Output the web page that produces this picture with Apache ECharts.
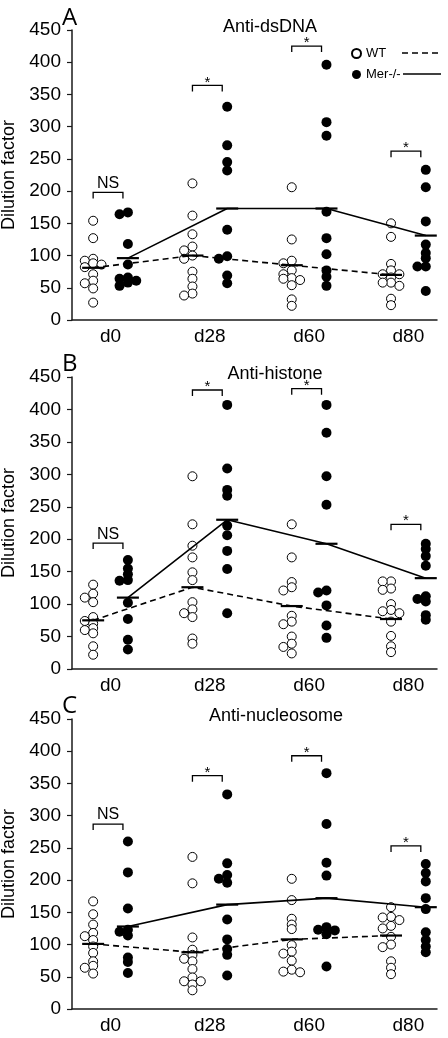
<!DOCTYPE html>
<html>
<head>
<meta charset="utf-8">
<script src="https://cdn.jsdelivr.net/npm/echarts@6/dist/echarts.min.js"></script>
<style>
html,body{margin:0;padding:0;background:#fff;}
#chart{width:448px;height:1038px;}
</style>
</head>
<body>
<div id="chart"></div>
<script>
// ---------------- data ----------------
const categories = ['d0', 'd28', 'd60', 'd80'];
const panelLetters = ['A', 'B', 'C'];
const panelTitles = ['Anti-dsDNA', 'Anti-histone', 'Anti-nucleosome'];
const legendNames = ['WT', 'Mer-/-'];

// Anti-dsDNA
const dsDNA_WT = [
  [154, 127, 95, 92, 88, 86, 82, 71, 61, 57, 49, 27],
  [212, 162, 133, 114, 108, 100, 95, 75, 64, 52, 41, 38],
  [206, 125, 92, 88, 77, 71, 65, 64, 62, 54, 32, 22],
  [150, 129, 87, 77, 71, 71, 66, 58, 58, 53, 33, 23]
];
const dsDNA_Mer = [
  [167, 164, 118, 86, 66, 64, 61, 58, 53],
  [331, 271, 245, 232, 140, 99, 95, 69, 57],
  [396, 307, 286, 168, 127, 102, 77, 67, 53],
  [233, 206, 153, 117, 104, 96, 83, 83, 45]
];
const dsDNA_WT_mean = [81, 100, 85, 70];
const dsDNA_Mer_mean = [96, 173, 173, 131];
const dsDNA_sig = [198, 364, 425, 262];

// Anti-histone
const histone_WT = [
  [130, 116, 110, 103, 80, 74, 70, 63, 60, 55, 35, 22],
  [297, 223, 190, 172, 149, 137, 103, 92, 86, 80, 47, 39],
  [223, 172, 134, 126, 121, 82, 73, 69, 50, 39, 34, 24],
  [135, 135, 124, 122, 100, 91, 89, 86, 73, 51, 35, 26]
];
const histone_Mer = [
  [168, 155, 146, 137, 136, 102, 77, 45, 30],
  [407, 309, 276, 267, 221, 206, 182, 154, 86],
  [407, 364, 297, 253, 121, 118, 98, 67, 48],
  [193, 185, 174, 159, 112, 108, 104, 83, 76]
];
const histone_WT_mean = [75, 126, 97, 77];
const histone_Mer_mean = [110, 230, 193, 140];
const histone_sig = [194, 430, 432, 223];

// Anti-nucleosome
const nucleosome_WT = [
  [167, 147, 131, 118, 113, 107, 97, 87, 74, 67, 64, 55],
  [236, 195, 111, 92, 84, 78, 74, 62, 49, 43, 43, 38, 29],
  [202, 169, 140, 131, 124, 99, 89, 86, 75, 61, 58, 57],
  [158, 143, 142, 138, 129, 125, 112, 100, 96, 74, 64, 54]
];
const nucleosome_Mer = [
  [260, 212, 156, 123, 120, 114, 80, 73, 56],
  [333, 226, 208, 202, 196, 139, 108, 93, 84, 52],
  [366, 287, 227, 207, 127, 123, 122, 116, 66],
  [225, 211, 198, 172, 155, 119, 107, 97, 88]
];
const nucleosome_WT_mean = [101, 88, 108, 114];
const nucleosome_Mer_mean = [128, 162, 172, 158];
const nucleosome_sig = [287, 362, 393, 253];

const sigLabels = ['NS', '*', '*', '*'];

// ---------------- layout / style constants ----------------
const FONT = '"Liberation Sans", Arial, sans-serif';
const GRID_LEFT = 72, GRID_W = 365;
const gridTops = [30, 377, 719];
const gridHeights = [290, 292, 290];
const X_MIN = 0.612, X_MAX = 4.288;
const Y_MAX = 450;
const GROUP_OFF = 0.175;      // WT left, Mer right of the category centre
const COL_STEP = 0.084;       // horizontal step between swarm columns
const MIN_GAP_PX = 4.5;       // vertical gap under which points shift sideways

const panels = [
  { wt: dsDNA_WT, mer: dsDNA_Mer, wtMean: dsDNA_WT_mean, merMean: dsDNA_Mer_mean, sig: dsDNA_sig },
  { wt: histone_WT, mer: histone_Mer, wtMean: histone_WT_mean, merMean: histone_Mer_mean, sig: histone_sig },
  { wt: nucleosome_WT, mer: nucleosome_Mer, wtMean: nucleosome_WT_mean, merMean: nucleosome_Mer_mean, sig: nucleosome_sig }
];

// simple deterministic beeswarm: values -> [x, y]
function swarm(values, center, pxPerUnit) {
  const sorted = values.slice().sort((a, b) => b - a);
  const placed = [];
  const out = [];
  sorted.forEach(v => {
    for (const col of [0, -1, 1, -2, 2, -3, 3]) {
      const clash = placed.some(p => p.col === col && Math.abs(p.v - v) * pxPerUnit < MIN_GAP_PX);
      if (!clash) { placed.push({ v, col }); out.push([center + col * COL_STEP, v]); break; }
    }
  });
  return out;
}

const grids = [], xAxes = [], yAxes = [], series = [], titles = [];

panels.forEach((p, i) => {
  const pxPerUnit = gridHeights[i] / Y_MAX;
  grids.push({ left: GRID_LEFT, top: gridTops[i], width: GRID_W, height: gridHeights[i],
               containLabel: false, outerBoundsMode: 'none' });
  xAxes.push({
    gridIndex: i, type: 'value', min: X_MIN, max: X_MAX,
    axisLine: { show: true, onZero: false, lineStyle: { color: '#1a1a1a', width: 1.5 } },
    axisTick: { show: false },
    splitLine: { show: false },
    axisLabel: {
      customValues: [1, 2, 3, 4],
      formatter: v => categories[Math.round(v) - 1] || '',
      color: '#000', fontSize: 19, fontFamily: FONT, margin: 7
    }
  });
  yAxes.push({
    gridIndex: i, type: 'value', min: 0, max: Y_MAX, interval: 50,
    name: 'Dilution factor', nameLocation: 'middle', nameGap: 48, nameRotate: 90,
    nameTextStyle: { color: '#000', fontSize: 18, fontFamily: FONT },
    axisLine: { show: true, onZero: false, lineStyle: { color: '#1a1a1a', width: 1.5 } },
    axisTick: { show: true, inside: false, length: 5, lineStyle: { color: '#1a1a1a', width: 1.2 } },
    splitLine: { show: false },
    axisLabel: { color: '#000', fontSize: 19, fontFamily: FONT, margin: 11 }
  });

  const wtPts = [], merPts = [];
  categories.forEach((c, k) => {
    const cx = k + 1;
    wtPts.push(...swarm(p.wt[k], cx - GROUP_OFF, pxPerUnit));
    merPts.push(...swarm(p.mer[k], cx + GROUP_OFF, pxPerUnit));
  });

  series.push({
    name: 'WT', type: 'scatter', xAxisIndex: i, yAxisIndex: i, data: wtPts,
    symbol: 'circle', symbolSize: 9,
    itemStyle: { color: '#fff', borderColor: '#000', borderWidth: 1, opacity: 1 },
    z: 3
  });
  series.push({
    name: 'Mer-/-', type: 'scatter', xAxisIndex: i, yAxisIndex: i, data: merPts,
    symbol: 'circle', symbolSize: 10,
    itemStyle: { color: '#000', opacity: 1 },
    z: 3
  });
  series.push({
    name: 'WT mean', type: 'line', xAxisIndex: i, yAxisIndex: i,
    data: p.wtMean.map((m, k) => [k + 1 - GROUP_OFF, m]),
    symbol: 'rect', symbolSize: [22, 2.2], showSymbol: true,
    itemStyle: { color: '#000' },
    lineStyle: { color: '#000', width: 1.6, type: [6, 4] },
    z: 4, silent: true
  });
  series.push({
    name: 'Mer mean', type: 'line', xAxisIndex: i, yAxisIndex: i,
    data: p.merMean.map((m, k) => [k + 1 + GROUP_OFF, m]),
    symbol: 'rect', symbolSize: [22, 2.2], showSymbol: true,
    itemStyle: { color: '#000' },
    lineStyle: { color: '#000', width: 1.6, type: 'solid' },
    z: 4, silent: true
  });
  series.push({
    name: 'sig', type: 'custom', xAxisIndex: i, yAxisIndex: i,
    data: p.sig.map((y, k) => [k + 1, y]),
    encode: { x: 0, y: 1 },
    silent: true, z: 5,
    renderItem: (params, api) => {
      const cat = api.value(0), yv = api.value(1);
      const p0 = api.coord([cat - GROUP_OFF, yv]);
      const p1 = api.coord([cat + 0.125, yv]);
      const label = sigLabels[params.dataIndex];
      const isNS = label === 'NS';
      return {
        type: 'group',
        children: [
          { type: 'polyline',
            shape: { points: [[p0[0], p0[1] + 6], [p0[0], p0[1]], [p1[0], p1[1]], [p1[0], p1[1] + 6]] },
            style: { stroke: '#000', lineWidth: 1.3, fill: null } },
          { type: 'text',
            style: { text: label, x: (p0[0] + p1[0]) / 2, y: p0[1] - (isNS ? 9 : 3),
              textAlign: 'center', textVerticalAlign: 'middle',
              font: (isNS ? 16 : 15) + 'px ' + FONT, fill: '#000' } }
        ]
      };
    }
  });

  titles.push({
    text: panelLetters[i], left: 62, top: [6, 352, 694][i], padding: 0,
    textStyle: { fontSize: 24, fontWeight: 'normal', color: '#000', fontFamily: '"Open Sans", "Noto Sans", sans-serif' }
  });
  titles.push({
    text: panelTitles[i], left: [270, 275, 276][i], top: [18, 365, 707][i], padding: 0, textAlign: 'center',
    textStyle: { fontSize: 18, fontWeight: 'normal', color: '#000', fontFamily: FONT }
  });
});

const chart = echarts.init(document.getElementById('chart'), null, { renderer: 'canvas' });
chart.setOption({
  animation: false,
  backgroundColor: '#fff',
  title: titles,
  grid: grids,
  xAxis: xAxes,
  yAxis: yAxes,
  legend: {
    data: legendNames, orient: 'vertical', left: 351, top: 47, padding: 0,
    itemWidth: 9, itemHeight: 9, itemGap: 8, icon: 'circle',
    textStyle: { fontSize: 13, color: '#000', fontFamily: FONT },
    selectedMode: false
  },
  graphic: [
    { type: 'line', shape: { x1: 402, y1: 53, x2: 442, y2: 53 }, style: { stroke: '#000', lineWidth: 1.6, lineDash: [6, 4] } },
    { type: 'line', shape: { x1: 403, y1: 74, x2: 441, y2: 74 }, style: { stroke: '#000', lineWidth: 1.6 } }
  ],
  series: series
});
</script>
</body>
</html>
